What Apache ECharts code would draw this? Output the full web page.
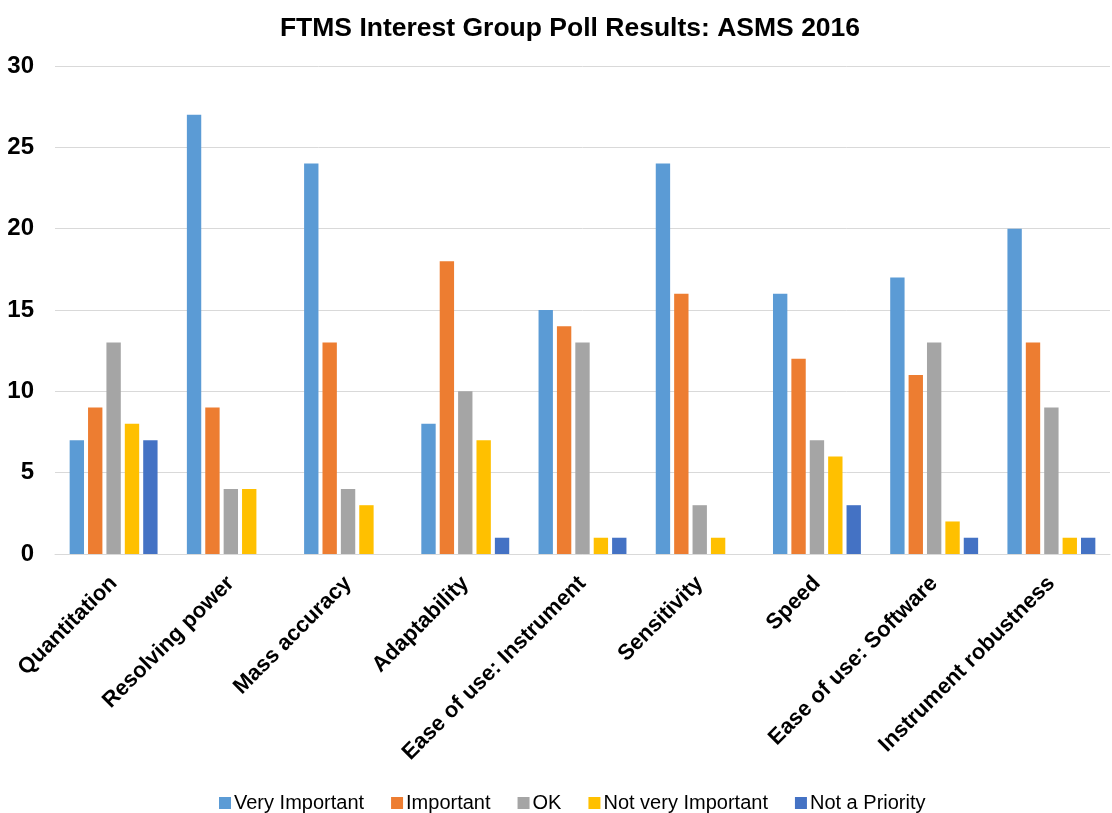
<!DOCTYPE html>
<html>
<head>
<meta charset="utf-8">
<script src="https://cdn.jsdelivr.net/npm/echarts@6/dist/echarts.min.js"></script>
<style>html,body{margin:0;padding:0;background:#fff;}#chart{width:1112px;height:813px;}</style>
</head>
<body>
<div id="chart"></div>
<script>
const categories = ["Quantitation","Resolving power","Mass accuracy","Adaptability","Ease of use: Instrument","Sensitivity","Speed","Ease of use: Software","Instrument robustness"];
const seriesNames = ["Very Important","Important","OK","Not very Important","Not a Priority"];
const veryImportant = [7,27,24,8,15,24,16,17,20];
const important = [9,9,13,18,14,16,12,11,13];
const ok = [13,4,4,10,13,3,7,13,9];
const notVeryImportant = [8,4,3,7,1,1,6,2,1];
const notAPriority = [7,0,0,1,1,0,3,1,1];
const colors = ["#5B9BD5","#ED7D31","#A5A5A5","#FFC000","#4472C4"];
const yTicks = [0,5,10,15,20,25,30];
const values = [veryImportant, important, ok, notVeryImportant, notAPriority];
const font = "Liberation Sans, Arial, sans-serif";
const chart = echarts.init(document.getElementById('chart'));
chart.setOption({
  animation: false,
  color: colors,
  title: {text: "FTMS Interest Group Poll Results: ASMS 2016", left: 570, textAlign: 'center', top: 15,
    padding: 0,
    textStyle: {fontFamily: font, fontSize: 26.5, fontWeight: 'bold', color: '#000'}},
  legend: {top: 793, left: 219, padding: 0, itemWidth: 12, itemHeight: 12, itemGap: 27,
    icon: 'rect', data: seriesNames,
    textStyle: {fontFamily: font, fontSize: 20, color: '#000', padding: [0,0,0,-2]}},
  grid: {left: 55, right: 2, top: 66, bottom: 259},
  xAxis: {type: 'category', data: categories,
    axisLine: {lineStyle: {color: '#d9d9d9', width: 1}},
    axisTick: {show: false},
    axisLabel: {rotate: 45, interval: 0, margin: 26, fontFamily: font, fontSize: 22, fontWeight: 'bold', color: '#000'}},
  yAxis: {type: 'value', min: yTicks[0], max: yTicks[yTicks.length-1], interval: 5,
    axisLine: {show: false}, axisTick: {show: false},
    splitLine: {lineStyle: {color: '#d9d9d9', width: 1}},
    axisLabel: {margin: 21, fontFamily: font, fontSize: 24, fontWeight: 'bold', color: '#000'}},
  series: seriesNames.map((n, i) => ({name: n, type: 'bar', data: values[i],
    barGap: '28%', barCategoryGap: '25%'}))
});
</script>
</body>
</html>
